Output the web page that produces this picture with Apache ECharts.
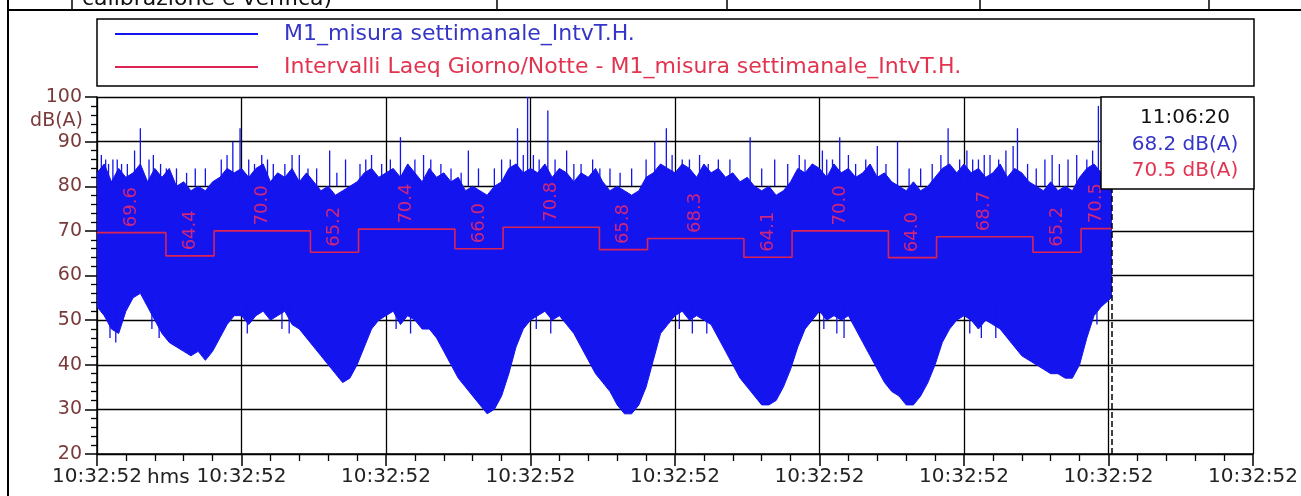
<!DOCTYPE html>
<html>
<head>
<meta charset="utf-8">
<script src="https://cdn.jsdelivr.net/npm/echarts@6/dist/echarts.min.js"></script>
<style>
  html, body { margin: 0; padding: 0; background: #fff; }
  #chart { width: 1301px; height: 496px; }
</style>
</head>
<body>
<div id="chart"></div>
<script>
    // time axis in days from 10:32:52, one grid step = 24 h
    const xTickLabel = '10:32:52'
    const sampleStep = 0.05
    const dataEnd = 7.02

    // upper edge of the dense level trace, dB(A), one value every sampleStep
    const hiLevel = [
        83, 85, 81, 84, 82, 83, 85, 81, 84, 82, 84, 80, 81, 79, 80, 79, 81, 82, 84, 83,
        84, 82, 84, 85, 81, 83, 82, 84, 81, 83, 81, 79, 80, 78, 79, 80, 81, 83, 84, 82,
        83, 84, 82, 85, 83, 81, 84, 82, 83, 81, 82, 79, 80, 79, 78, 80, 81, 84, 85, 83,
        84, 83, 85, 82, 84, 83, 81, 83, 82, 84, 81, 79, 80, 79, 78, 79, 82, 83, 85, 84,
        83, 85, 84, 82, 85, 83, 84, 82, 83, 81, 82, 80, 79, 80, 78, 79, 81, 84, 83, 85,
        84, 82, 85, 83, 84, 82, 83, 85, 82, 83, 81, 80, 79, 81, 79, 80, 82, 84, 85, 83,
        85, 83, 84, 82, 83, 85, 82, 84, 83, 81, 80, 79, 81, 79, 80, 79, 82, 84, 85, 83,
        84
    ]
    // lower edge of the trace
    const loLevel = [
        53, 51, 48, 47, 52, 55, 56, 53, 50, 47, 45, 44, 43, 42, 43, 41, 43, 46, 49, 51,
        51, 49, 51, 52, 50, 51, 52, 49, 48, 46, 44, 42, 40, 38, 36, 37, 40, 44, 48, 50,
        51, 52, 49, 51, 50, 48, 48, 46, 43, 40, 37, 35, 33, 31, 29, 30, 33, 38, 44, 48,
        50, 51, 52, 50, 51, 49, 47, 44, 41, 38, 36, 34, 31, 29, 29, 31, 35, 41, 47, 49,
        51, 52, 50, 51, 50, 49, 46, 43, 40, 37, 35, 33, 31, 31, 32, 35, 39, 44, 48, 50,
        52, 50, 51, 50, 51, 48, 45, 42, 39, 36, 34, 33, 31, 31, 33, 36, 40, 45, 48, 50,
        51, 50, 48, 50, 49, 48, 46, 44, 42, 41, 40, 39, 38, 38, 37, 37, 40, 46, 51, 53,
        55
    ]
    // single peaks above the trace
    const spikeT = [0.03, 0.06, 0.11, 0.17, 0.26, 0.30, 0.36, 0.44, 0.55, 0.68, 0.86, 0.94, 0.99,
        1.05, 1.14, 1.22, 1.40, 1.52, 1.61, 1.72, 1.90, 1.97, 2.10, 2.20, 2.31, 2.45, 2.57, 2.75,
        2.86, 2.91, 2.95, 2.98, 3.06, 3.12, 3.25, 3.35, 3.43, 3.55, 3.70, 3.86, 3.94, 4.05, 4.17,
        4.30, 4.52, 4.69, 4.86, 4.95, 5.05, 5.14, 5.25, 5.40, 5.54, 5.70, 5.89, 5.97, 6.10, 6.18,
        6.34, 6.37, 6.50, 6.61, 6.72, 6.85, 6.93,
        0.08, 0.14, 0.21, 0.39, 0.48, 0.62, 0.75, 0.90, 1.09, 1.18, 1.30, 1.35, 1.46, 1.66, 1.82,
        1.86, 2.03, 2.15, 2.26, 2.38, 2.52, 2.64, 2.80, 3.02, 3.17, 3.30, 3.48, 3.62, 3.80, 3.98,
        4.10, 4.23, 4.38, 4.60, 4.78, 4.90, 5.02, 5.09, 5.20, 5.32, 5.46, 5.62, 5.78, 5.84, 6.02,
        6.06, 6.14, 6.24, 6.29, 6.44, 6.56, 6.66, 6.78, 6.89, 6.97]
    const spikeV = [87, 86, 86, 85, 88, 93, 86, 85, 84, 84, 86, 90, 93,
        86, 87, 85, 87, 84, 88, 86, 87, 85, 91, 86, 86, 84, 88, 84,
        86, 93, 87, 100, 86, 97, 88, 85, 86, 84, 84, 90, 93, 86, 87,
        86, 91, 86, 87, 85, 86, 91, 85, 89, 90, 84, 93, 86, 86, 87,
        89, 93, 84, 87, 86, 86, 98,
        85, 86, 85, 87, 84, 83, 84, 87, 85, 86, 85, 87, 84, 83, 85,
        86, 86, 85, 87, 85, 83, 84, 86, 87, 86, 85, 84, 83, 86, 87,
        86, 85, 86, 84, 85, 86, 88, 86, 87, 86, 85, 84, 85, 87, 88,
        86, 87, 86, 88, 85, 86, 85, 87, 88, 87]
    // single dips below the trace
    const dipT = [0.09, 0.13, 0.38, 0.43, 1.04, 1.28, 1.33, 2.07, 2.17, 3.04, 3.14, 4.03, 4.12,
        4.22, 5.03, 5.12, 5.17, 6.04, 6.12, 6.22, 6.92]
    const dipV = [46, 45, 48, 46, 47, 48, 47, 48, 47, 48, 47, 48, 47,
        47, 48, 47, 46, 47, 46, 46, 49]

    // Laeq giorno / notte
    const laeqEdge = [0, 0.477, 0.81, 1.477, 1.81, 2.477, 2.81, 3.477, 3.81, 4.477, 4.81, 5.477, 5.81, 6.477, 6.81, 7.02]
    const laeqValue = [69.6, 64.4, 70.0, 65.2, 70.4, 66.0, 70.8, 65.8, 68.3, 64.1, 70.0, 64.0, 68.7, 65.2, 70.5]

    const cursorText = ['11:06:20', '68.2 dB(A)', '70.5 dB(A)']

    const blue = '#1414ee'
    const red = '#dc2354'
    const font = 'DejaVu Sans, Verdana, sans-serif'
    const nameLevel = 'M1_misura settimanale_IntvT.H.'
    const nameLaeq = 'Intervalli Laeq Giorno/Notte - M1_misura settimanale_IntvT.H.'

    const stepData = laeqValue.map((v, i) => [laeqEdge[i], v])
    stepData.push([laeqEdge[laeqEdge.length - 1], laeqValue[laeqValue.length - 1]])
    const labelData = laeqValue.map((v, i) => [(laeqEdge[i] + laeqEdge[i + 1]) / 2, v])

    // thin vertical blue line from a base level to the item value
    function tick(from) {
        return (params, api) => {
            const p1 = api.coord([api.value(0), from])
            const p2 = api.coord([api.value(0), api.value(1)])
            return {
                type: 'line',
                shape: { x1: p1[0], y1: p1[1], x2: p2[0], y2: p2[1] },
                style: { stroke: blue, lineWidth: 1.3 }
            }
        }
    }

    const chart = echarts.init(document.getElementById('chart'))

    chart.setOption({
        animation: false,
        textStyle: { fontFamily: font },
        grid: { left: 97, right: 48, top: 97, bottom: 42, outerBoundsMode: 'none' },
        legend: {
            orient: 'vertical',
            left: 115,
            top: 23,
            padding: 0,
            itemGap: 11,
            itemWidth: 143,
            itemHeight: 2,
            icon: 'rect',
            selectedMode: false,
            textStyle: { fontSize: 22, padding: [0, 0, 0, 21] },
            data: [
                { name: nameLevel, textStyle: { color: '#3535c8' } },
                { name: nameLaeq, textStyle: { color: '#e23450' } }
            ]
        },
        xAxis: {
            type: 'value',
            min: 0,
            max: 8,
            interval: 1,
            axisLine: { lineStyle: { color: '#000', width: 1.5 } },
            axisTick: { length: 12, lineStyle: { color: '#000', width: 1.5 } },
            minorTick: { show: true, splitNumber: 5, length: 7, lineStyle: { color: '#000', width: 1.3 } },
            splitLine: { show: true, lineStyle: { color: '#000', width: 1.3 } },
            axisLabel: {
                margin: 13,
                fontSize: 20,
                color: '#222',
                showMinLabel: true,
                showMaxLabel: true,
                formatter: () => xTickLabel
            }
        },
        yAxis: {
            type: 'value',
            min: 20,
            max: 100,
            interval: 10,
            axisLine: { show: true, lineStyle: { color: '#000', width: 1.5 } },
            axisTick: { show: true, length: 12, lineStyle: { color: '#000', width: 1.5 } },
            minorTick: { show: true, splitNumber: 5, length: 6, lineStyle: { color: '#000', width: 1.3 } },
            splitLine: { show: true, lineStyle: { color: '#000', width: 1.3 } },
            axisLabel: { margin: 15, fontSize: 19, color: '#7a3a3a' }
        },
        series: [
            {
                name: nameLevel,
                type: 'custom',
                silent: true,
                clip: true,
                itemStyle: { color: blue },
                data: [[0, 50]],
                renderItem: (params, api) => {
                    const top = []
                    const bottom = []
                    for (let i = 0; i < hiLevel.length; i++) {
                        const t = i === hiLevel.length - 1 ? dataEnd : i * sampleStep
                        top.push(api.coord([t, hiLevel[i]]))
                        bottom.push(api.coord([t, loLevel[i]]))
                    }
                    return {
                        type: 'polygon',
                        shape: { points: top.concat(bottom.reverse()) },
                        style: { fill: blue, stroke: blue, lineWidth: 1 }
                    }
                }
            },
            {
                name: 'spikes',
                type: 'custom',
                silent: true,
                clip: true,
                data: spikeT.map((t, i) => [t, spikeV[i]]),
                renderItem: tick(80)
            },
            {
                name: 'dips',
                type: 'custom',
                silent: true,
                clip: true,
                data: dipT.map((t, i) => [t, dipV[i]]),
                renderItem: tick(55)
            },
            {
                name: nameLaeq,
                type: 'line',
                step: 'end',
                symbol: 'none',
                color: red,
                lineStyle: { width: 1.6, color: red },
                data: stepData,
                z: 5,
                markLine: {
                    silent: true,
                    symbol: 'none',
                    label: { show: false },
                    lineStyle: { type: 'dashed', color: '#000', width: 1.5 },
                    data: [{ xAxis: dataEnd }]
                }
            },
            {
                name: 'laeqLabels',
                type: 'scatter',
                symbolSize: 1,
                itemStyle: { color: 'rgba(0,0,0,0)' },
                z: 6,
                data: labelData,
                label: {
                    show: true,
                    position: 'top',
                    distance: 5,
                    rotate: 90,
                    align: 'left',
                    verticalAlign: 'middle',
                    fontSize: 18,
                    color: '#ff2a5c',
                    formatter: p => p.value[1].toFixed(1)
                }
            }
        ],
        graphic: [
            // page table remains above the chart
            { type: 'line', shape: { x1: 8, y1: 0, x2: 8, y2: 496 }, style: { stroke: '#000', lineWidth: 2 } },
            { type: 'line', shape: { x1: 8, y1: 10, x2: 1301, y2: 10 }, style: { stroke: '#000', lineWidth: 2 } },
            { type: 'line', shape: { x1: 72, y1: 0, x2: 72, y2: 10 }, style: { stroke: '#000', lineWidth: 1.5 } },
            { type: 'line', shape: { x1: 497, y1: 0, x2: 497, y2: 10 }, style: { stroke: '#000', lineWidth: 1.5 } },
            { type: 'line', shape: { x1: 727, y1: 0, x2: 727, y2: 10 }, style: { stroke: '#000', lineWidth: 1.5 } },
            { type: 'line', shape: { x1: 980, y1: 0, x2: 980, y2: 10 }, style: { stroke: '#000', lineWidth: 1.5 } },
            { type: 'line', shape: { x1: 1209, y1: 0, x2: 1209, y2: 10 }, style: { stroke: '#000', lineWidth: 1.5 } },
            {
                type: 'text', x: 82, y: -1,
                style: { text: 'calibrazione e verifica)', font: '22px DejaVu Sans', fill: '#111', verticalAlign: 'middle' }
            },
            // legend frame
            { type: 'rect', shape: { x: 97, y: 19, width: 1157, height: 67 }, style: { fill: 'none', stroke: '#000', lineWidth: 1.5 } },
            // y unit
            {
                type: 'text', x: 83, y: 121,
                style: { text: 'dB(A)', font: '19px ' + font, fill: '#7a3a3a', align: 'right', verticalAlign: 'middle' }
            },
            {
                type: 'text', x: 147, y: 478,
                style: { text: 'hms', font: '20px ' + font, fill: '#222', verticalAlign: 'middle' }
            },
            // cursor readout
            {
                type: 'rect', z: 100, shape: { x: 1101, y: 97, width: 153, height: 92 },
                style: { fill: '#fff', stroke: '#000', lineWidth: 1.5 }
            },
            {
                type: 'text', z: 101, x: 1185, y: 118,
                style: { text: cursorText[0], font: '20px ' + font, fill: '#111', align: 'center', verticalAlign: 'middle' }
            },
            {
                type: 'text', z: 101, x: 1185, y: 145,
                style: { text: cursorText[1], font: '20px ' + font, fill: '#3535c8', align: 'center', verticalAlign: 'middle' }
            },
            {
                type: 'text', z: 101, x: 1185, y: 171,
                style: { text: cursorText[2], font: '20px ' + font, fill: '#e23450', align: 'center', verticalAlign: 'middle' }
            }
        ]
    })
</script>
</body>
</html>
